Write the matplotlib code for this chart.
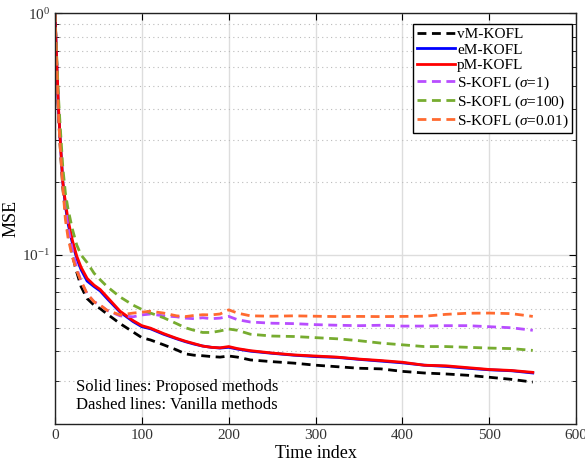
import matplotlib
matplotlib.use("Agg")
import matplotlib.pyplot as plt
from matplotlib.ticker import LogLocator, NullFormatter, FixedLocator

plt.rcParams['font.family'] = ['Liberation Serif', 'DejaVu Serif']
plt.rcParams['mathtext.fontset'] = 'custom'
plt.rcParams['mathtext.rm'] = 'Liberation Serif'
plt.rcParams['mathtext.it'] = 'Liberation Serif:italic'

t = [0, 2, 4, 6, 9, 12, 15, 20, 25, 30, 37, 45, 52, 60, 75, 90, 100, 110, 125, 140,
     150, 160, 170, 180, 190, 200, 210, 225, 250, 275, 300, 325, 350, 375, 400, 425,
     450, 475, 500, 525, 550]

vm_kofl = [1.0, 0.60, 0.38, 0.28, 0.19, 0.15, 0.125, 0.10, 0.085, 0.074, 0.066, 0.062, 0.060,
           0.057, 0.052, 0.048, 0.0455, 0.0445, 0.0425, 0.0405, 0.0390, 0.0385, 0.0383, 0.0380,
           0.0378, 0.0382, 0.0378, 0.0368, 0.0362, 0.0357, 0.0350, 0.0345, 0.0340, 0.0338,
           0.0330, 0.0325, 0.0322, 0.0318, 0.0312, 0.0306, 0.0298]
em_kofl = [1.0, 0.62, 0.40, 0.30, 0.20, 0.16, 0.135, 0.112, 0.097, 0.087, 0.078, 0.074, 0.071,
           0.066, 0.058, 0.053, 0.0505, 0.0495, 0.0470, 0.0450, 0.0438, 0.0428, 0.0420, 0.0415,
           0.0412, 0.0415, 0.0408, 0.0400, 0.0392, 0.0385, 0.0380, 0.0377, 0.0370, 0.0364,
           0.0358, 0.0350, 0.0346, 0.0340, 0.0335, 0.0332, 0.0325]
pm_kofl = [1.0, 0.63, 0.41, 0.30, 0.20, 0.165, 0.14, 0.115, 0.099, 0.089, 0.080, 0.075, 0.072,
           0.067, 0.0585, 0.0535, 0.051, 0.0498, 0.0473, 0.0452, 0.0440, 0.0430, 0.0420, 0.0415,
           0.0413, 0.0418, 0.0410, 0.0402, 0.0393, 0.0386, 0.0382, 0.0378, 0.0371, 0.0366,
           0.0360, 0.0350, 0.0348, 0.0342, 0.0336, 0.0333, 0.0327]
s_kofl_1 = [1.0, 0.62, 0.40, 0.30, 0.20, 0.16, 0.13, 0.105, 0.088, 0.078, 0.069, 0.064, 0.062,
            0.059, 0.056, 0.0555, 0.0565, 0.0570, 0.0560, 0.0555, 0.0548, 0.0545, 0.0550, 0.0545,
            0.0548, 0.0557, 0.0540, 0.0528, 0.0522, 0.0520, 0.0515, 0.0512, 0.0510, 0.0512,
            0.0508, 0.0508, 0.0510, 0.0510, 0.0505, 0.0500, 0.0488]
s_kofl_100 = [1.0, 0.66, 0.45, 0.34, 0.23, 0.18, 0.155, 0.128, 0.110, 0.100, 0.093, 0.084, 0.079,
              0.074, 0.067, 0.062, 0.0595, 0.0575, 0.0550, 0.0520, 0.0500, 0.0488, 0.0478, 0.0478,
              0.0485, 0.0494, 0.0488, 0.0470, 0.0462, 0.0460, 0.0455, 0.0450, 0.0442, 0.0432,
              0.0425, 0.0418, 0.0418, 0.0415, 0.0412, 0.0410, 0.0403]
s_kofl_001 = [1.0, 0.60, 0.38, 0.28, 0.19, 0.14, 0.118, 0.098, 0.086, 0.078, 0.069, 0.064, 0.062,
              0.059, 0.0565, 0.0575, 0.0580, 0.0585, 0.0575, 0.0560, 0.0556, 0.0562, 0.0566, 0.0565,
              0.0570, 0.0593, 0.0575, 0.0560, 0.0558, 0.0560, 0.0558, 0.0556, 0.0557, 0.0556,
              0.0557, 0.0558, 0.0568, 0.0574, 0.0575, 0.0572, 0.0557]

fig = plt.figure(figsize=(5.85, 4.69), dpi=100)
ax = fig.add_axes([0.094, 0.096, 0.891, 0.876])

dash = (0, (3.2, 2.0))
ax.plot(t, vm_kofl, color='black', lw=2.0, ls=dash, label='vM-KOFL')
ax.plot(t, em_kofl, color='#0000FF', lw=2.0, ls='-', label='eM-KOFL')
ax.plot(t, pm_kofl, color='#FF0000', lw=2.0, ls='-', label='pM-KOFL')
ax.plot(t, s_kofl_1, color='#B84DFF', lw=2.0, ls=dash, label=r'S-KOFL ($\sigma$=1)')
ax.plot(t, s_kofl_100, color='#77AC30', lw=2.0, ls=dash, label=r'S-KOFL ($\sigma$=100)')
ax.plot(t, s_kofl_001, color='#FF6A30', lw=2.0, ls=dash, label=r'S-KOFL ($\sigma$=0.01)')

ax.set_yscale('log')
ax.set_xlim(0, 600)
ax.set_ylim(0.02, 1.0)
ax.set_xticks([0, 100, 200, 300, 400, 500, 600])
ax.yaxis.set_major_locator(FixedLocator([0.1, 1.0]))
ax.yaxis.set_minor_locator(LogLocator(base=10, subs=range(2, 10)))
ax.yaxis.set_minor_formatter(NullFormatter())

ax.grid(True, which='major', axis='both', color='#dddddd', lw=1.0, ls='-')
ax.grid(True, which='minor', axis='y', color='#bbbbbb', lw=0.8, ls=(0, (1, 3)))
ax.set_axisbelow(True)

ax.tick_params(which='both', direction='in', top=True, right=True, labelsize=11, colors='black')
ax.tick_params(axis='both', which='major', length=5, labelcolor='#333333')
ax.tick_params(which='minor', length=3)
for s in ax.spines.values():
    s.set_linewidth(1.0)
    s.set_color('#222222')

ax.set_xlabel('Time index', fontsize=13, labelpad=2)
ax.set_ylabel('MSE', fontsize=13, labelpad=2)

ax.text(24, 0.0261, 'Solid lines: Proposed methods\nDashed lines: Vanilla methods',
        fontsize=12, va='center', ha='left', linespacing=1.2)

leg = ax.legend(loc='upper right', bbox_to_anchor=(0.992, 0.973), borderaxespad=0.0,
                fontsize=11, frameon=True, fancybox=False,
                edgecolor='black', framealpha=1.0, handlelength=2.5,
                labelspacing=0.12, handletextpad=0.15, borderpad=0.22)
leg.get_frame().set_linewidth(1.0)

fig.savefig('out.png', dpi=100)
